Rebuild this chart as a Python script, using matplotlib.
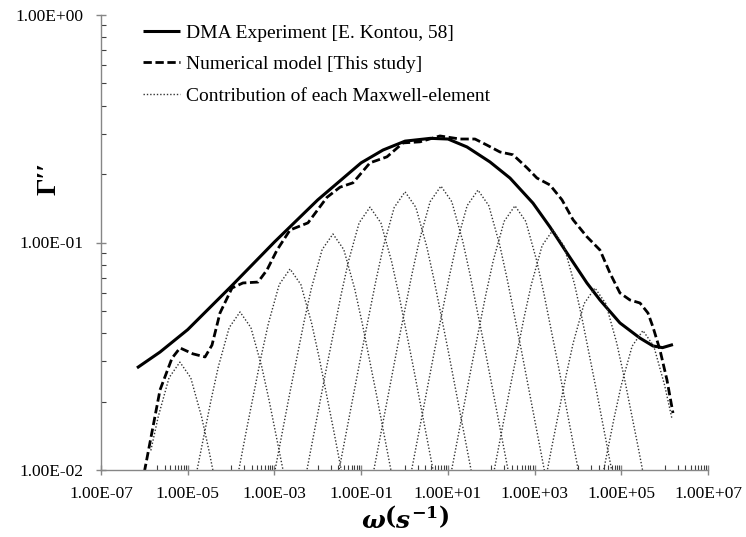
import numpy as np
import matplotlib.pyplot as plt
from matplotlib.ticker import FixedLocator, LogLocator, FuncFormatter, NullFormatter

# --- data ---
# DMA experiment (solid)
dma_w = [6.76e-7, 2.30e-6, 1.0e-5, 1.0e-4, 1.0e-3, 1.0e-2, 0.10, 0.32, 1.03, 3.98,
         10.1, 27.6, 93.5, 271, 918, 2265, 5585, 1.61e4, 3.22e4, 9.31e4, 2.70e5,
         5.38e5, 8.9e5, 1.556e6]
dma_g = [0.0281, 0.0330, 0.0414, 0.0641, 0.1005, 0.154, 0.224, 0.255, 0.279, 0.287,
         0.285, 0.263, 0.226, 0.192, 0.149, 0.117, 0.0899, 0.0664, 0.0559, 0.0443, 0.0380,
         0.0351, 0.0345, 0.0356]

# numerical model (dashed)
num_w = [1.0e-6, 2.30e-6, 4.34e-6, 6.64e-6, 1.32e-5, 2.51e-5, 3.63e-5, 5.55e-5, 1.05e-4, 1.88e-4,
         4.18e-4, 6.73e-4, 1.15e-3, 2.29e-3, 5.94e-3, 1.63e-2, 3.25e-2, 6.49e-2, 0.160, 0.394,
         0.923, 2.28, 4.54, 6.58, 19.0, 42.2, 79.8, 159, 318, 668, 1135, 2265, 4285, 7690,
         1.61e4, 3.22e4, 5.48e4, 9.31e4, 1.58e5, 2.70e5, 4.12e5, 5.38e5, 7.80e5, 1.13e6, 1.556e6]
num_g = [0.0098, 0.0225, 0.0310, 0.0344, 0.0324, 0.0314, 0.0354, 0.0490, 0.0631, 0.0664,
         0.0670, 0.0757, 0.0927, 0.1135, 0.122, 0.158, 0.175, 0.183, 0.224, 0.238,
         0.274, 0.277, 0.288, 0.294, 0.285, 0.285, 0.268, 0.250, 0.243, 0.213, 0.192, 0.179, 0.154, 0.126,
         0.106, 0.0927, 0.0734, 0.0600, 0.0559, 0.0542, 0.0490, 0.0425, 0.0337, 0.0249, 0.0178]

# Maxwell elements: peak position / height, and the common peak shape (decades from peak, ratio to peak)
mx_peak_w = [6.6e-6, 1.61e-4, 2.29e-3, 2.24e-2, 0.160, 1.03, 6.93, 49.5, 353, 2655, 2.47e4, 3.16e5]
mx_peak_g = [0.0298, 0.0495, 0.0765, 0.109, 0.143, 0.167, 0.177, 0.170, 0.145, 0.1135, 0.0631, 0.041]
shape_dec = [-2.0, -1.5, -1.0, -0.67, -0.5, -0.25, 0.0, 0.25, 0.5, 0.67, 1.0, 1.5, 2.0]
shape_ratio = [0.020, 0.063, 0.198, 0.409, 0.575, 0.854, 1.0, 0.854, 0.575, 0.409, 0.198, 0.063, 0.020]
w_min, w_max = 6.7e-7, 1.56e6

serif = ['Liberation Serif', 'DejaVu Serif']
plt.rcParams['font.family'] = serif
plt.rcParams['mathtext.fontset'] = 'custom'
plt.rcParams['mathtext.it'] = 'DejaVu Serif:italic:bold'
plt.rcParams['mathtext.rm'] = 'DejaVu Serif:bold'

fig = plt.figure(figsize=(7.46, 5.37), dpi=100)
ax = fig.add_axes([101/746, 1 - 470/537, 607/746, 455/537])

ax.plot(dma_w, dma_g, color='black', lw=2.2, solid_capstyle='butt',
        label='DMA Experiment [E. Kontou, 58]')
ax.plot(num_w, num_g, color='black', lw=2.0, linestyle=(0, (3.0, 1.3)),
        label='Numerical model [This study]')
for i, (pw, pg) in enumerate(zip(mx_peak_w, mx_peak_g)):
    w = pw * 10.0 ** np.array(shape_dec)
    g = pg * np.array(shape_ratio)
    keep = (w >= w_min) & (w <= w_max)
    ax.plot(w[keep], g[keep], color='#333333', lw=1.0, linestyle=(0, (1, 1.4)),
            label='Contribution of each Maxwell-element' if i == 0 else None)

ax.set_xscale('log')
ax.set_yscale('log')
ax.set_xlim(1e-7, 1e7)
ax.set_ylim(1e-2, 1e0)

sci = FuncFormatter(lambda v, p: f'{v:.2E}')
ax.xaxis.set_major_locator(FixedLocator([10.0 ** e for e in range(-7, 8, 2)]))
ax.xaxis.set_minor_locator(FixedLocator([k * 10.0 ** e for e in range(-6, 7, 2) for k in range(1, 10)]))
ax.yaxis.set_major_locator(FixedLocator([1e-2, 1e-1, 1e0]))
ax.yaxis.set_minor_locator(LogLocator(base=10, subs=range(2, 10)))
ax.xaxis.set_major_formatter(sci)
ax.yaxis.set_major_formatter(sci)
ax.xaxis.set_minor_formatter(NullFormatter())
ax.yaxis.set_minor_formatter(NullFormatter())

for s in ['top', 'right']:
    ax.spines[s].set_visible(False)
for s in ['left', 'bottom']:
    ax.spines[s].set_color('#868686')
    ax.spines[s].set_linewidth(1.0)

ax.tick_params(which='major', direction='inout', length=7, width=1.0, color='#868686',
               labelsize=12.5, pad=8)
ax.tick_params(axis='y', which='major', pad=9)
ax.tick_params(which='minor', direction='in', length=3.5, width=0.8, color='#404040')

fig.text(49/746, 1 - 178/537, 'Γ′′', rotation=90, ha='center', va='center',
         fontsize=20, fontweight='bold', family=serif)
fig.text(405/746, 1 - 519/537, r'$\omega\left(s^{-1}\right)$', ha='center', va='center',
         fontsize=18)

ax.legend(loc='upper left', bbox_to_anchor=(143/746, 1 - 24/537), bbox_transform=fig.transFigure,
          frameon=False, fontsize=14, handlelength=1.9, handletextpad=0.3,
          labelspacing=0.72, borderpad=0, borderaxespad=0)

fig.savefig('out.png', dpi=100)
